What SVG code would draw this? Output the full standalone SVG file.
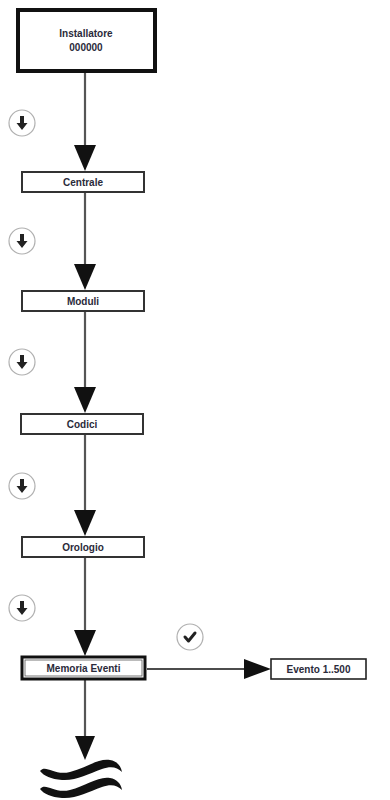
<svg xmlns="http://www.w3.org/2000/svg" width="390" height="800" viewBox="0 0 390 800">
<defs>
<style>
.box{fill:#fff;stroke:#333;stroke-width:2}
.txt{font-family:"Liberation Sans",Arial,sans-serif;font-weight:bold;font-size:10px;fill:#2a2a3a;text-anchor:middle}
.conn{stroke:#555;stroke-width:2.2;fill:none}
.icon{fill:#fff;stroke:#b0b0b0;stroke-width:1.2}
.glyph{fill:#222}
</style>
<marker id="ah" markerWidth="12" markerHeight="14" refX="12" refY="7" orient="auto" markerUnits="userSpaceOnUse" viewBox="0 0 12 14">
<path d="M0,0 L12,7 L0,14 Z" fill="#111"/>
</marker>
<g id="down">
<circle r="13" class="icon"/>
<path class="glyph" d="M-2,-7 H2 V0 H5.5 L0,7 L-5.5,0 H-2 Z"/>
</g>
</defs>

<g id="connectors">
<line class="conn" x1="85" y1="72" x2="85" y2="146"/>
<path d="M74,145 L96,145 L85,171 Z" fill="#111"/>
<line class="conn" x1="85" y1="192" x2="85" y2="265"/>
<path d="M74,264 L96,264 L85,290 Z" fill="#111"/>
<line class="conn" x1="85" y1="311" x2="85" y2="388"/>
<path d="M74,387 L96,387 L85,413 Z" fill="#111"/>
<line class="conn" x1="85" y1="434" x2="85" y2="511"/>
<path d="M74,510 L96,510 L85,536 Z" fill="#111"/>
<line class="conn" x1="85" y1="557" x2="85" y2="631"/>
<path d="M74,630 L96,630 L85,656 Z" fill="#111"/>
<line stroke="#111" stroke-width="1.6" x1="147" y1="669" x2="245" y2="669"/>
<path d="M244,659 L271,669 L244,679 Z" fill="#111"/>
<line class="conn" x1="85" y1="680" x2="85" y2="737"/>
<path d="M75,736 L95,736 L85,760 Z" fill="#111"/>
</g>

<g id="installatore">
<rect x="18" y="10" width="137" height="61" fill="#fff" stroke="#111" stroke-width="4"/>
<text class="txt" x="86" y="37">Installatore</text>
<text class="txt" x="86" y="51">000000</text>
</g>
<g id="centrale">
<rect class="box" x="22" y="172" width="122" height="20"/>
<text class="txt" x="83" y="186">Centrale</text>
</g>
<g id="moduli">
<rect class="box" x="22" y="291" width="122" height="20"/>
<text class="txt" x="83" y="305">Moduli</text>
</g>
<g id="codici">
<rect class="box" x="21" y="414" width="122" height="20"/>
<text class="txt" x="82" y="428">Codici</text>
</g>
<g id="orologio">
<rect class="box" x="22" y="537" width="122" height="20"/>
<text class="txt" x="83" y="551">Orologio</text>
</g>
<g id="memoria-eventi">
<rect x="22" y="657" width="123" height="22" fill="#fff" stroke="#111" stroke-width="3"/>
<rect x="25" y="660" width="117" height="16" fill="none" stroke="#555" stroke-width="0.8"/>
<text class="txt" x="83.5" y="672">Memoria Eventi</text>
</g>
<g id="evento">
<rect x="271" y="659" width="95" height="20" fill="#fff" stroke="#222" stroke-width="1.6"/>
<text class="txt" x="318.5" y="673">Evento 1..500</text>
</g>

<g id="icons">
<use href="#down" x="22" y="123"/>
<use href="#down" x="22" y="241"/>
<use href="#down" x="22" y="362"/>
<use href="#down" x="22" y="486"/>
<use href="#down" x="22" y="608"/>
<g id="check" transform="translate(190,637)">
<circle r="13" class="icon"/>
<path d="M-5,0 L-1.5,4 L5,-4" fill="none" stroke="#222" stroke-width="3" stroke-linecap="round" stroke-linejoin="round"/>
</g>
</g>

<g id="break">
<path fill="#111" d="M40,771 C46,764 54,776 70,772 C86,768 98,758 110,760 C117,761 121,766 122,772 C117,767 111,766 102,769 C88,774 76,781 62,780 C51,779 44,776 40,771 Z"/>
<path fill="#111" d="M40,789 C46,782 54,794 70,790 C86,786 98,776 110,778 C117,779 121,784 122,790 C117,785 111,784 102,787 C88,792 76,799 62,798 C51,797 44,794 40,789 Z"/>
</g>
</svg>
